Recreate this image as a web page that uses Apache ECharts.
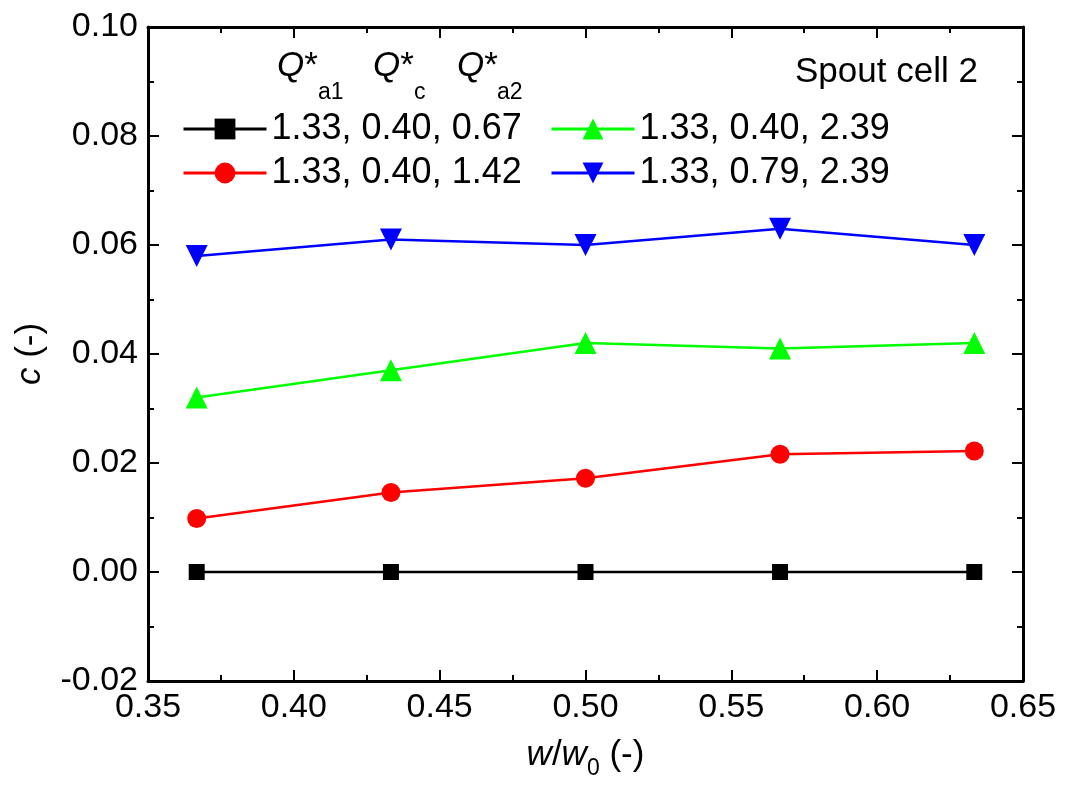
<!DOCTYPE html>
<html>
<head>
<meta charset="utf-8">
<script src="https://cdn.jsdelivr.net/npm/echarts@6/dist/echarts.min.js"></script>
<style>
html,body{margin:0;padding:0;background:#fff;}
#main{width:1067px;height:785px;}
</style>
</head>
<body>
<div id="main"></div>
<script>
// w/w0 values
var xVals = [0.3667, 0.4333, 0.5000, 0.5667, 0.6333];
var seriesNames = ['1.33, 0.40, 0.67', '1.33, 0.40, 1.42', '1.33, 0.40, 2.39', '1.33, 0.79, 2.39'];
var cBlack = [0, 0, 0, 0, 0];
var cRed   = [0.0098, 0.0146, 0.0172, 0.0216, 0.0222];
var cGreen = [0.032, 0.037, 0.042, 0.041, 0.042];
var cBlue  = [0.058, 0.061, 0.060, 0.063, 0.060];

var font = 'Liberation Sans, Arial, sans-serif';

function pairs(ys){
    var out = [];
    for (var i = 0; i < xVals.length; i++) out.push([xVals[i], ys[i]]);
    return out;
}
function mkSeries(name, ys, color, symbol, size, rot){
    return {
        name: name,
        type: 'line',
        data: pairs(ys),
        symbol: symbol,
        symbolSize: size,
        symbolRotate: rot || 0,
        showAllSymbol: true,
        lineStyle: {color: color, width: 2.5},
        itemStyle: {color: color},
        emphasis: {disabled: true},
        z: 3
    };
}

var axisLine = {show: true, onZero: false, lineStyle: {color: '#000', width: 3}};
var tick = {show: true, inside: true, length: 11, lineStyle: {color: '#000', width: 2}};
var minor = {show: true, splitNumber: 2, length: 6, lineStyle: {color: '#000', width: 2}};

var legendText = {color: '#000', fontSize: 36, fontFamily: font};

var option = {
    animation: false,
    backgroundColor: '#fff',
    grid: {left: 148, right: 44, top: 27, bottom: 104},
    xAxis: [{
        type: 'value', min: 0.35, max: 0.65, interval: 0.05,
        axisLine: axisLine, axisTick: tick, minorTick: minor,
        splitLine: {show: false},
        axisLabel: {color: '#000', fontSize: 34, fontFamily: font, margin: 10,
            formatter: function(v){ return v.toFixed(2); }},
        name: '{i|w}/{i|w}{s|0} (-)',
        nameLocation: 'middle', nameGap: 50,
        nameTextStyle: {
            color: '#000', fontSize: 35, fontFamily: font,
            rich: {
                i: {fontStyle: 'italic', fontSize: 35, fontFamily: font, color: '#000'},
                s: {fontSize: 23, fontFamily: font, color: '#000', padding: [26, 0, 0, 0]}
            }
        }
    }, {
        type: 'value', position: 'top', min: 0.35, max: 0.65, interval: 0.05,
        axisLine: axisLine, axisTick: tick, minorTick: minor,
        axisLabel: {show: false}, splitLine: {show: false}
    }],
    yAxis: [{
        type: 'value', min: -0.02, max: 0.10, interval: 0.02,
        axisLine: axisLine, axisTick: tick, minorTick: minor,
        splitLine: {show: false},
        axisLabel: {color: '#000', fontSize: 34, fontFamily: font, margin: 10,
            formatter: function(v){ return v.toFixed(2); }},
        name: '{i|c} (-)',
        nameLocation: 'middle', nameGap: 100, nameRotate: 90,
        nameTextStyle: {
            color: '#000', fontSize: 35, fontFamily: font,
            rich: {i: {fontStyle: 'italic', fontSize: 35, fontFamily: font, color: '#000'}}
        }
    }, {
        type: 'value', position: 'right', min: -0.02, max: 0.10, interval: 0.02,
        axisLine: axisLine, axisTick: tick, minorTick: minor,
        axisLabel: {show: false}, splitLine: {show: false}
    }],
    legend: [{
        data: [seriesNames[0], seriesNames[1]],
        orient: 'vertical', left: 177, top: 106,
        itemWidth: 83, itemHeight: 26, itemGap: 8, itemTextGap: 10,
        lineStyle: {width: 3},
        textStyle: legendText, selectedMode: false
    }, {
        data: [seriesNames[2], seriesNames[3]],
        orient: 'vertical', left: 545, top: 106,
        itemWidth: 83, itemHeight: 26, itemGap: 8, itemTextGap: 10,
        lineStyle: {width: 3},
        textStyle: legendText, selectedMode: false
    }],
    graphic: [
        {type: 'text', left: 795, top: 55, style: {text: 'Spout cell 2', fill: '#000', font: '35px ' + font}},
        {type: 'text', left: 277, top: 49, style: {text: '{q|Q}*', fill: '#000', font: '35px ' + font,
            rich: {q: {fontStyle: 'italic', fontSize: 35, fontFamily: font}}}},
        {type: 'text', left: 318, top: 81, style: {text: 'a1', fill: '#000', font: '23px ' + font}},
        {type: 'text', left: 373, top: 49, style: {text: '{q|Q}*', fill: '#000', font: '35px ' + font,
            rich: {q: {fontStyle: 'italic', fontSize: 35, fontFamily: font}}}},
        {type: 'text', left: 414, top: 81, style: {text: 'c', fill: '#000', font: '23px ' + font}},
        {type: 'text', left: 457, top: 49, style: {text: '{q|Q}*', fill: '#000', font: '35px ' + font,
            rich: {q: {fontStyle: 'italic', fontSize: 35, fontFamily: font}}}},
        {type: 'text', left: 497, top: 81, style: {text: 'a2', fill: '#000', font: '23px ' + font}}
    ],
    series: [
        mkSeries(seriesNames[0], cBlack, '#000000', 'rect', 16),
        mkSeries(seriesNames[1], cRed, '#ff0000', 'circle', 19),
        mkSeries(seriesNames[2], cGreen, '#00ff00', 'triangle', 22),
        mkSeries(seriesNames[3], cBlue, '#0000ff', 'triangle', 22, 180)
    ]
};

var myChart = echarts.init(document.getElementById('main'));
myChart.setOption(option);
</script>
</body>
</html>
